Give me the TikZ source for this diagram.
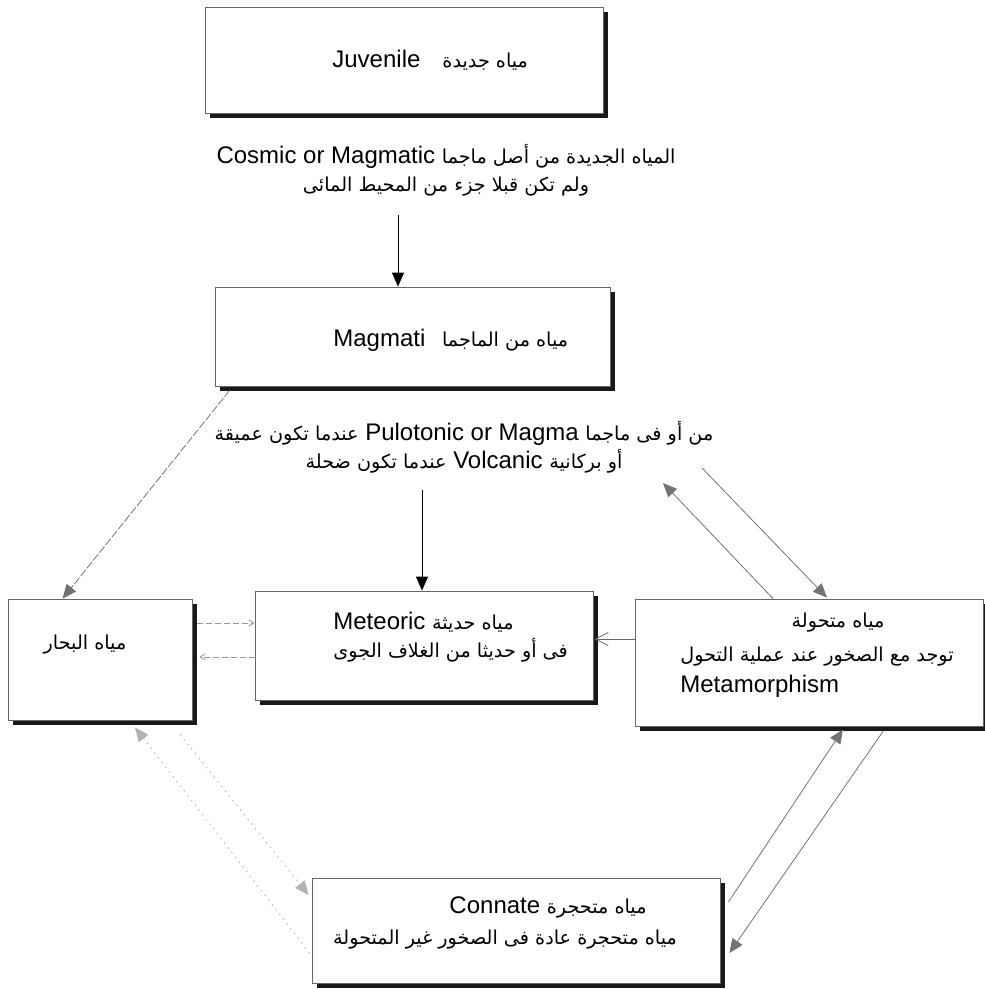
\documentclass[tikz,border=0pt]{standalone}
\usepackage{fontspec}
\setmainfont{Liberation Sans}
\newfontfamily\arabicfont[Script=Arabic, Scale=0.8]{DejaVu Sans}
\TeXXeTstate=1
\usetikzlibrary{arrows.meta, shadows}
\newcommand{\arb}[1]{{\arabicfont #1}}

\begin{document}
\begin{tikzpicture}[x=0.5pt, y=-0.5pt,
        box/.style={rectangle, draw=black!60, line width=0.4pt, fill=white, inner sep=0pt,
                    drop shadow={shadow xshift=2.5pt, shadow yshift=-2.5pt, opacity=1, fill=black!90}},
        txt/.style={font=\fontsize{12}{14}\selectfont, inner sep=0pt},
        arr/.style={-{Triangle[length=7pt, width=6pt]}, line width=0.5pt},
        garr/.style={-{Triangle[length=7pt, width=6pt]}, draw=black!55, line width=0.4pt},
        dimarr/.style={-{Triangle[length=7pt, width=6pt]}, draw=black!30, line width=0.4pt,
                       dash pattern=on 0.8pt off 2.2pt},
        barb/.style={-{Straight Barb[length=6.5pt, width=6.5pt]}, draw=black!60, line width=0.4pt},
        tinyarr/.style={-{Straight Barb[length=2.5pt, width=3pt]}, draw=black!40, line width=0.4pt,
                        dash pattern=on 3pt off 1.5pt}
    ]
    \useasboundingbox (0,0) rectangle (984,989);

    \node[box, minimum width=199pt, minimum height=53pt] (juv) at (404,60) {};
    \node[box, minimum width=197.5pt, minimum height=49.5pt] (magma) at (412.5,336.5) {};
    \node[box, minimum width=92pt, minimum height=60.5pt] (sea) at (100,659.5) {};
    \node[box, minimum width=169pt, minimum height=54.5pt] (meteo) at (424,645.5) {};
    \node[box, minimum width=174pt, minimum height=63.5pt] (metam) at (809,662.5) {};
    \node[box, minimum width=204pt, minimum height=52.5pt] (conn) at (516,930.5) {};

    \node[txt, anchor=west] (juvtxt) at (332,60)
        {\beginR\arb{مياه جديدة}\hspace{11pt}\beginL Juvenile\endL\endR};
    \node[txt, align=center] (juvnote) at (446,170)
        {\beginR\arb{المياه الجديدة من أصل ماجما} \beginL Cosmic or Magmatic\endL\endR\\
         \beginR\arb{ولم تكن قبلا جزء من المحيط المائى}\endR};
    \node[txt, anchor=west] (magtxt) at (333,340)
        {\beginR\arb{مياه من الماجما}\hspace{5pt} \beginL Magmati\endL\endR};
    \node[txt, align=center] (magnote) at (464,447)
        {\beginR\arb{من أو فى ماجما} \beginL Pulotonic or Magma\endL{} \arb{عندما تكون عميقة}\endR\\
         \beginR\arb{أو بركانية} Volcanic \arb{عندما تكون ضحلة}\endR};
    \node[txt] (seatxt) at (85,645) {\beginR\arb{مياه البحار}\endR};
    \node[txt, anchor=west, align=left] (meteotxt) at (333,637)
        {\beginR\arb{مياه حديثة} Meteoric\endR\\
         \beginR\arb{فى أو حديثا من الغلاف الجوى}\endR};
    \node[txt] (metamhead) at (838,623) {\beginR\arb{مياه متحولة}\endR};
    \node[txt, anchor=west, align=left, font=\fontsize{12}{15.5}\selectfont] (metamtxt) at (680,672)
        {\beginR\arb{توجد مع الصخور عند عملية التحول}\endR\\
         Metamorphism};
    \node[txt] (connhead) at (548,907) {\beginR\arb{مياه متحجرة} Connate\endR};
    \node[txt] (conntxt) at (505,940)
        {\beginR\arb{مياه متحجرة عادة فى الصخور غير المتحولة}\endR};

    \coordinate (jv) at (398,215);
    \coordinate (mg) at (422,490);
    \coordinate (up) at (663,483);
    \coordinate (down) at (702,468);
    \draw[arr] (jv) -- (jv |- magma.north);
    \draw[arr] (mg) -- (mg |- meteo.north);
    \draw[garr, dash pattern=on 4pt off 1pt] ([shift={(15,4)}]magma.south west) -- ([shift={(55,0)}]sea.north west);
    \draw[garr] ([shift={(-36,0)}]metam.north) -- (up);
    \draw[garr] (down) -- ([shift={(18,-1)}]metam.north);
    \draw[barb] ([shift={(0,-23.5)}]metam.west) -- ([shift={(1,-6.5)}]meteo.east);
    \draw[tinyarr] ([shift={(5,-36.5)}]sea.east) -- ([shift={(0,-22.5)}]meteo.west);
    \draw[tinyarr] ([shift={(0,11.5)}]meteo.west) -- ([shift={(7,-2.5)}]sea.east);
    \draw[garr] ([shift={(8,-28.5)}]conn.east) -- ([shift={(34,3)}]metam.south);
    \draw[garr] ([shift={(74,5)}]metam.south) -- ([shift={(9,22.5)}]conn.east);
    \draw[dimarr] ([shift={(-2,22.5)}]conn.west) -- ([shift={(35,7)}]sea.south);
    \draw[dimarr] ([shift={(80,14)}]sea.south) -- ([shift={(-3,-35.5)}]conn.west);
\end{tikzpicture}
\end{document}
